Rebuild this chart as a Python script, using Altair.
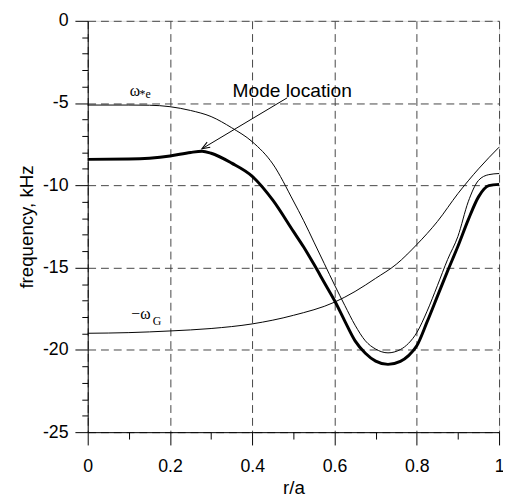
import math
import altair as alt
import pandas as pd

# ---- data ----
omega_e_r = [0, 0.1, 0.15, 0.2, 0.25, 0.3, 0.35, 0.4, 0.45, 0.5, 0.525, 0.55, 0.575, 0.6,
             0.625, 0.65, 0.675, 0.7, 0.73, 0.76, 0.78, 0.8, 0.825, 0.85, 0.875, 0.9,
             0.925, 0.95, 0.975, 1.0]
omega_e_f = [-5.12, -5.12, -5.13, -5.22, -5.45, -5.82, -6.5, -7.35, -8.7, -10.95, -12.15,
             -13.45, -14.75, -16.05, -17.3, -18.5, -19.45, -19.95, -20.18, -19.98, -19.6,
             -18.95, -17.65, -16.1, -14.5, -13.1, -11.0, -9.7, -9.35, -9.28]

mode_r = [0, 0.1, 0.15, 0.2, 0.25, 0.278, 0.3, 0.35, 0.4, 0.45, 0.5, 0.525, 0.55, 0.575,
          0.6, 0.625, 0.65, 0.675, 0.7, 0.73, 0.76, 0.78, 0.8, 0.825, 0.85, 0.875, 0.9,
          0.925, 0.95, 0.975, 1.0]
mode_f = [-8.42, -8.40, -8.35, -8.22, -8.0, -7.93, -8.05, -8.65, -9.45, -10.9, -12.8,
          -13.75, -14.8, -15.9, -17.0, -18.25, -19.45, -20.2, -20.68, -20.88, -20.7,
          -20.35, -19.75, -18.3, -16.75, -15.2, -13.7, -12.1, -10.7, -10.02, -9.94]

omega_g_r = [0, 0.1, 0.2, 0.3, 0.4, 0.5, 0.6, 0.65, 0.7, 0.75, 0.8, 0.85, 0.9, 0.95, 1.0]
omega_g_f = [-18.99, -18.95, -18.85, -18.7, -18.42, -17.9, -17.1, -16.45, -15.65, -14.8,
             -13.6, -12.2, -10.5, -9.0, -7.68]

x_ticks = [0, 0.1, 0.2, 0.3, 0.4, 0.5, 0.6, 0.7, 0.8, 0.9, 1.0]
x_major = [0, 0.2, 0.4, 0.6, 0.8, 1]
y_ticks = list(range(-25, 1))
y_major = [-25, -20, -15, -10, -5, 0]

# annotations
greek_text = ["\u03c9", "\u2212\u03c9"]
greek_r = [0.102, 0.106]
greek_f = [-4.59, -18.1]
sub_text = ["*e", "G"]
sub_r = [0.126, 0.158]
sub_f = [-4.71, -18.49]
mode_label = ["Mode location"]
mode_label_r = [0.352]
mode_label_f = [-4.66]
arrow_r = [0.485, 0.2775]
arrow_f = [-4.68, -7.78]

# ---- build tables ----
thin_rows = []
for name, rs, fs in [("omega_e", omega_e_r, omega_e_f), ("omega_g", omega_g_r, omega_g_f)]:
    for r, f in zip(rs, fs):
        thin_rows.append({"r": r, "f": f, "s": name})
thin_df = pd.DataFrame(thin_rows)
thick_df = pd.DataFrame({"r": mode_r, "f": mode_f, "s": "mode"})

W, H = 418, 418
x_dom = [0, 1]
y_dom = [-25, 0]

FONT = "Liberation Sans"
SERIF = "Liberation Serif"

x_test = "indexof(%s, datum.value) >= 0" % str(x_major)
y_test = "indexof(%s, datum.value) >= 0" % str(y_major)

x_axis = alt.Axis(
    title="r/a",
    values=x_ticks, tickCount=len(x_ticks) + 5,
    labelExpr=x_test + " ? ('' + datum.value) : ''",
    tickSize={"condition": {"test": x_test, "value": 13}, "value": 7},
    gridOpacity={"condition": {"test": x_test, "value": 1}, "value": 0},
    gridDash=[8, 5], gridColor="#444", gridWidth=1,
    domainColor="black", tickColor="black", domainWidth=1, tickWidth=1,
    labelFont=FONT, labelFontSize=18, labelColor="black", labelPadding=13,
    labelFlush=False, labelOverlap=False,
    titleFont=FONT, titleFontSize=19, titleFontWeight="normal", titleColor="black",
    titlePadding=3,
)
y_axis = alt.Axis(
    title="frequency, kHz",
    values=y_ticks, tickCount=len(y_ticks) + 5,
    labelExpr=y_test + " ? ('' + datum.value) : ''",
    tickSize={"condition": {"test": y_test, "value": 13}, "value": 6},
    gridOpacity={"condition": {"test": y_test, "value": 1}, "value": 0},
    gridDash=[8, 5], gridColor="#444", gridWidth=1,
    domainColor="black", tickColor="black", domainWidth=1, tickWidth=1,
    labelFont=FONT, labelFontSize=18, labelColor="black", labelPadding=7,
    labelFlush=False, labelOverlap=False,
    titleFont=FONT, titleFontSize=19, titleFontWeight="normal", titleColor="black",
    titlePadding=6,
)

xs = alt.Scale(domain=x_dom, nice=False, zero=False)
ys = alt.Scale(domain=y_dom, nice=False, zero=False)

thin = alt.Chart(thin_df).mark_line(interpolate="monotone", color="black", strokeWidth=1).encode(
    x=alt.X("r:Q", scale=xs, axis=x_axis),
    y=alt.Y("f:Q", scale=ys, axis=y_axis),
    detail="s:N",
)
thick = alt.Chart(thick_df).mark_line(interpolate="monotone", color="black", strokeWidth=3).encode(
    x=alt.X("r:Q", scale=xs, axis=x_axis),
    y=alt.Y("f:Q", scale=ys, axis=y_axis),
)

arrow_df = pd.DataFrame({"r": arrow_r, "f": arrow_f, "o": [0, 1]})
arrow_line = alt.Chart(arrow_df).mark_line(color="black", strokeWidth=1).encode(
    x="r:Q", y="f:Q", order="o:Q")

# arrowhead angle from screen-space direction
dx = (arrow_r[1] - arrow_r[0]) * W / (x_dom[1] - x_dom[0])
dy = -(arrow_f[1] - arrow_f[0]) * H / (y_dom[1] - y_dom[0])
ang = math.degrees(math.atan2(dy, dx)) % 360
head_df = pd.DataFrame({"r": [arrow_r[1]], "f": [arrow_f[1]]})
arrow_head = alt.Chart(head_df).mark_point(
    shape="M-1,-0.38L0,0L-1,0.38", angle=ang, size=260, filled=False,
    stroke="black", strokeWidth=1, opacity=1).encode(x="r:Q", y="f:Q")

greek_df = pd.DataFrame({"r": greek_r, "f": greek_f, "t": greek_text})
greek = alt.Chart(greek_df).mark_text(
    align="left", baseline="alphabetic", font=SERIF, fontSize=16, color="black").encode(
    x="r:Q", y="f:Q", text="t:N")
sub_df = pd.DataFrame({"r": sub_r, "f": sub_f, "t": sub_text})
subs = alt.Chart(sub_df).mark_text(
    align="left", baseline="alphabetic", font=SERIF, fontSize=12, color="black").encode(
    x="r:Q", y="f:Q", text="t:N")
lab_df = pd.DataFrame({"r": mode_label_r, "f": mode_label_f, "t": mode_label})
label = alt.Chart(lab_df).mark_text(
    align="left", baseline="alphabetic", font=FONT, fontSize=19.5, color="black").encode(
    x="r:Q", y="f:Q", text="t:N")

chart = alt.layer(thin, thick, arrow_line, arrow_head, greek, subs, label).properties(
    width=W, height=H, autosize="none",
    padding={"left": 81, "top": 9, "right": 4, "bottom": 70},
).configure_view(stroke=None).configure(background="white")

chart.save("out.html", embed_options={"renderer": "svg", "actions": False})
